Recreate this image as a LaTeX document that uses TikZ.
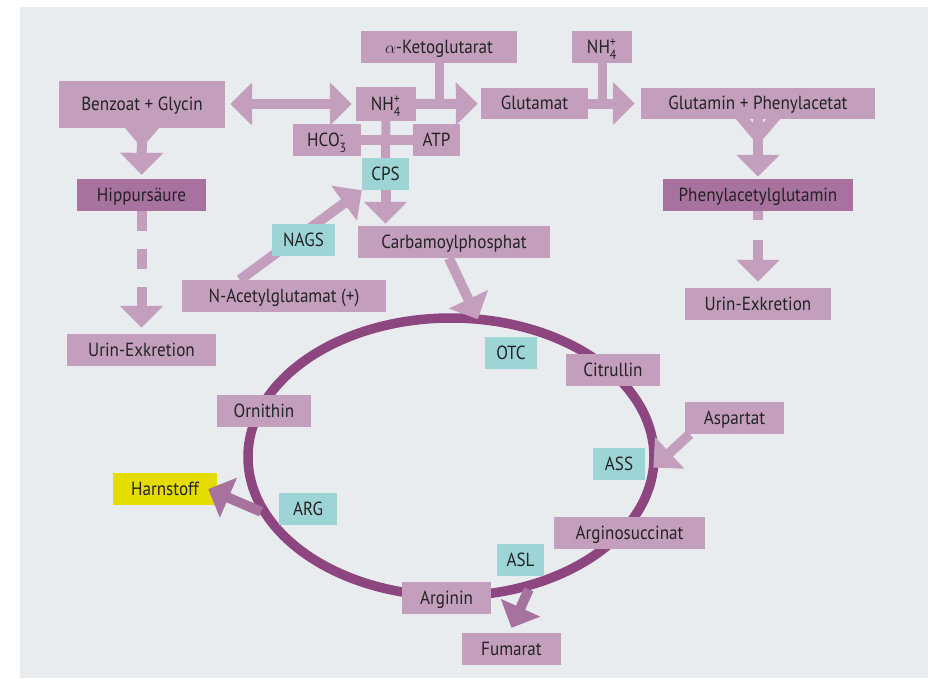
\documentclass[tikz,border=0pt]{standalone}
\usepackage{amsmath}
\usepackage{fontspec}
\setmainfont{PT Sans}[FakeStretch=0.9]
\usetikzlibrary{arrows.meta,backgrounds,calc,shapes.geometric}

\definecolor{paper}{HTML}{E9ECEF}
\definecolor{lilac}{HTML}{C49FBD}
\definecolor{plum}{HTML}{A8729F}
\definecolor{ringcol}{HTML}{8D4680}
\definecolor{enzyme}{HTML}{9DD4D6}
\definecolor{urea}{HTML}{E5DC00}
\definecolor{ink}{HTML}{232323}

\begin{document}
\begin{tikzpicture}[x=1pt,y=-1pt,>={Triangle[width=42pt,length=22pt]},
    box/.style={fill=lilac,text=ink,inner sep=0pt,minimum height=32pt,
      text height=13.5pt,text depth=1pt,font=\fontsize{19}{21}\selectfont},
    dark/.style={box,fill=plum},
    enz/.style={box,fill=enzyme},
    fat/.style={lilac,line width=10pt},
    ytail/.pic={\fill[lilac] (-22,0) -- (-8,0) -- (0,10) -- (8,0) -- (22,0) -- (5,20) -- (-5,20) -- cycle;}]
    \useasboundingbox (0,0) rectangle (935,678);
    \node[ellipse,draw=ringcol,line width=9.5pt,inner sep=0pt,outer sep=0pt,
      minimum width=406pt,minimum height=278pt] (ring) at (451,457) {};

    \node[box,minimum width=156pt] (keto) at (439,47) {$\alpha$-Ketoglutarat};
    \node[box,minimum width=60pt] (nh4b) at (602,47) {NH$_{\text{4}}^{\text{+}}$};
    \node[box,minimum width=166pt,minimum height=47pt] (benzoat) at (142,104.5) {Benzoat + Glycin};
    \node[box,minimum width=60pt,minimum height=34pt] (nh4) at (386,104) {NH$_{\text{4}}^{\text{+}}$};
    \node[box,minimum width=107pt,minimum height=31pt] (glutamat) at (534.5,103.5) {Glutamat};
    \node[box,minimum width=234pt,minimum height=31pt] (glutamin) at (758,103.5) {Glutamin + Phenylacetat};
    \node[box,minimum width=68pt] (hco3) at (327,140) {HCO$_{\text{3}}^{\text{-}}$};
    \node[box,minimum width=47pt] (atp) at (436.5,140) {ATP};
    \node[enz,minimum width=47pt] (cps) at (385.5,174) {CPS};
    \node[dark,minimum width=129pt] (hippur) at (141.5,195) {Hippursäure};
    \node[dark,minimum width=190pt] (phenyl) at (758,195) {Phenylacetylglutamin};
    \node[enz,minimum width=63pt] (nags) at (303.5,240) {NAGS};
    \node[box,minimum width=192pt] (carbamoyl) at (454,242) {Carbamoylphosphat};
    \node[box,minimum width=204pt] (nacetyl) at (284,296) {N-Acetylglutamat (+)};
    \node[box,minimum width=146pt] (urinr) at (758,304) {Urin-Exkretion};
    \node[box,minimum width=149pt] (urinl) at (141.5,350) {Urin-Exkretion};
    \node[enz,minimum width=52pt] (otc) at (511,353) {OTC};
    \node[box,minimum width=94pt] (citrullin) at (613,370) {Citrullin};
    \node[box,minimum width=94pt] (ornithin) at (264,411) {Ornithin};
    \node[box,minimum width=99pt] (aspartat) at (734.5,418) {Aspartat};
    \node[enz,minimum width=52pt] (ass) at (619,464) {ASS};
    \node[box,minimum width=104pt,fill=urea] (harnstoff) at (165,489) {Harnstoff};
    \node[enz,minimum width=58pt] (arg) at (308,509) {ARG};
    \node[box,minimum width=151pt] (argsucc) at (629.5,533) {Arginosuccinat};
    \node[enz,minimum width=47pt] (asl) at (520.5,560) {ASL};
    \node[box,minimum width=89pt] (arginin) at (446.5,598) {Arginin};
    \node[box,minimum width=99pt] (fumarat) at (511.5,649) {Fumarat};

    \begin{scope}[on background layer]
    \fill[paper] (20,7) rectangle (928,678);
    \draw[fat,<->,shorten <=5pt,shorten >=4pt] (nh4.west -| benzoat.east) -- (nh4.west);
    \draw[fat,->,shorten >=3pt] (nh4) -- (glutamat);
    \draw[fat,line width=9pt] (keto) -- (keto |- nh4);
    \draw[fat,->,shorten >=6pt] (glutamat) -- (glutamin);
    \draw[fat,line width=9pt] (nh4b) -- (nh4b |- glutamat);
    \draw[fat,line width=9pt] (nh4) -- (cps);
    \draw[fat] (hco3) -- (atp);
    \draw[fat,->,shorten >=2pt] (cps) -- (cps |- carbamoyl.north);
    \draw[fat,->] ($(nacetyl.north west)+(58,0)$) -- (cps.south west);
    \pic at ($(benzoat.south)+(0,-6)$) {ytail};
    \draw[fat,->,shorten >=4pt] (benzoat) -- (hippur);
    \pic at (glutamin.south) {ytail};
    \draw[fat,->,shorten >=2pt] (glutamin) -- (phenyl);
    \draw[fat,->,dash pattern=on 20pt off 18pt,shorten >=6pt] (hippur) -- (urinl);
    \draw[fat,->,dash pattern=on 20pt off 20pt,dash phase=11pt,shorten >=6pt] (phenyl) -- (urinr);
    \end{scope}

    \draw[fat,->] ([xshift=-5pt]carbamoyl.south) -- (ring.79);
    \draw[fat,->] ([xshift=5pt]aspartat.south west) -- (ring.-3);
    \draw[fat,plum,->,shorten <=5pt] (ring.197) -- ([xshift=-9pt]harnstoff.east);
    \draw[fat,plum,->,shorten <=5pt] (ring.-58) -- ([yshift=5pt]fumarat.north);
\end{tikzpicture}
\end{document}
